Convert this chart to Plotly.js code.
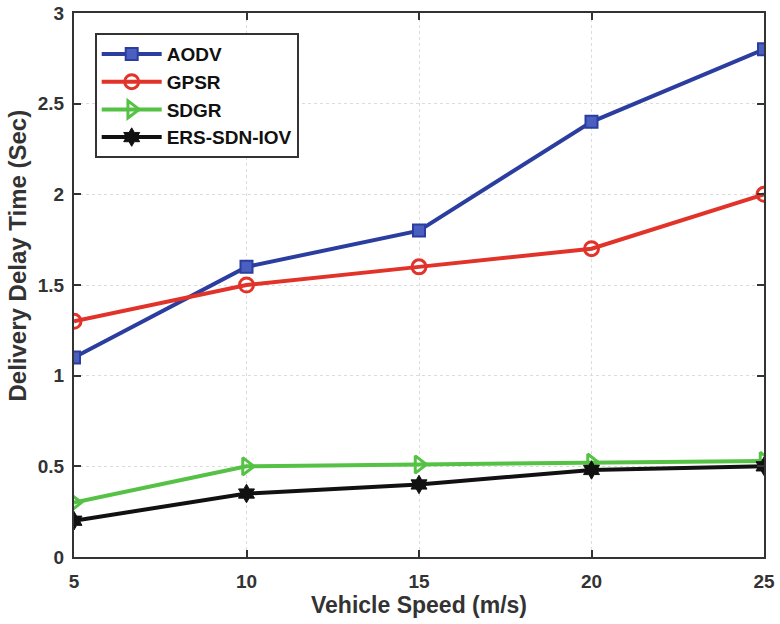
<!DOCTYPE html>
<html>
<head>
<meta charset="utf-8">
<script src="https://cdn.plot.ly/plotly-3.0.1.min.js"></script>
<style>html,body{margin:0;padding:0;background:#fff}#chart{width:780px;height:624px}</style>
</head>
<body>
<div id="chart"></div>
<script>
// Vehicle speed (m/s) on x, delivery delay (s) per routing protocol on y
const speeds = [5, 10, 15, 20, 25];
const aodv = [1.1, 1.6, 1.8, 2.4, 2.8];
const gpsr = [1.3, 1.5, 1.6, 1.7, 2.0];
const sdgr = [0.3, 0.5, 0.51, 0.52, 0.53];
const ersSdnIov = [0.2, 0.35, 0.4, 0.48, 0.5];

const xTitle = 'Vehicle Speed (m/s)';
const yTitle = 'Delivery Delay Time (Sec)';

const FONT = 'Liberation Sans, Arial, sans-serif';

function series(name, y, color, symbol, fill, size, lw) {
  return {
    x: speeds, y: y, name: name, type: 'scatter', mode: 'lines+markers',
    line: {color: color, width: 4},
    marker: {symbol: symbol, size: size, color: fill, line: {color: color, width: lw}}
  };
}

const traces = [
  series('AODV', aodv, '#2b3ea0', 'square', '#4a5fc0', 12, 2),
  series('GPSR', gpsr, '#e2332a', 'circle-open', '#e2332a', 14, 3),
  series('SDGR', sdgr, '#55c145', 'triangle-right-open', '#55c145', 15, 3),
  series('ERS-SDN-IOV', ersSdnIov, '#111111', 'hexagram', '#111111', 14, 1)
];

const axisCommon = {
  showline: true, linecolor: '#333', linewidth: 2, mirror: 'ticks',
  ticks: 'inside', ticklen: 7, tickwidth: 2, tickcolor: '#333',
  showgrid: true, gridcolor: '#dcdcdc', griddash: 'dot', gridwidth: 1,
  zeroline: false,
  tickfont: {family: FONT, size: 19, color: '#333', weight: 'bold'}
};

const layout = {
  width: 780, height: 624,
  margin: {l: 74, r: 16, t: 13, b: 67},
  paper_bgcolor: '#fff', plot_bgcolor: '#fff',
  showlegend: true,
  legend: {
    x: 0.03, y: 0.963, xanchor: 'left', yanchor: 'top',
    bgcolor: '#fff', bordercolor: '#333', borderwidth: 2,
    font: {family: FONT, size: 19, color: '#111', weight: 'bold'},
    tracegroupgap: 0, itemwidth: 60
  },
  xaxis: Object.assign({}, axisCommon, {
    range: [5, 25], tickvals: [5, 10, 15, 20, 25], ticklabelstandoff: 6
  }),
  yaxis: Object.assign({}, axisCommon, {
    range: [0, 3], tickvals: [0, 0.5, 1, 1.5, 2, 2.5, 3],
    ticktext: ['0', '0.5', '1', '1.5', '2', '2.5', '3'], ticklabelstandoff: 4
  }),
  // axis titles placed as paper annotations
  annotations: [
    {text: xTitle, xref: 'paper', yref: 'paper', x: 0.5, y: -0.088,
      xanchor: 'center', yanchor: 'middle', showarrow: false,
      font: {family: FONT, size: 23, color: '#333', weight: 'bold'}},
    {text: yTitle, xref: 'paper', yref: 'paper', x: -0.082, y: 0.555,
      xanchor: 'center', yanchor: 'middle', showarrow: false, textangle: -90,
      font: {family: FONT, size: 24, color: '#333', weight: 'bold'}}
  ]
};

Plotly.newPlot('chart', traces, layout, {displayModeBar: false});
</script>
</body>
</html>
